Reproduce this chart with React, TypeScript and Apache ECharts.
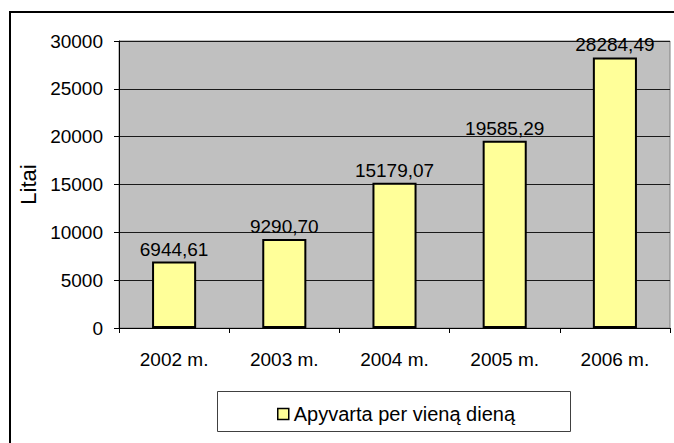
import React, { useEffect, useRef } from "react";
import * as echarts from "echarts";

const categories = ["2002 m.", "2003 m.", "2004 m.", "2005 m.", "2006 m."];
const values = [6944.61, 9290.7, 15179.07, 19585.29, 28284.49];
const seriesName = "Apyvarta per vieną dieną";
const yAxisName = "Litai";

const FONT = 'Arial, "Liberation Sans", sans-serif';

export default function App() {
  const ref = useRef<HTMLDivElement>(null);
  useEffect(() => {
    if (!ref.current) return;
    const chart = echarts.init(ref.current, undefined, { renderer: "svg" });
    chart.setOption({
      animation: false,
      backgroundColor: "#ffffff",
      textStyle: { fontFamily: FONT },
      grid: {
        left: 119,
        top: 41,
        right: 4,
        bottom: 115,
        show: true,
        backgroundColor: "#C0C0C0",
        borderColor: "#808080",
        borderWidth: 1,
      },
      xAxis: {
        type: "category",
        data: categories,
        axisLine: { show: true, lineStyle: { color: "#000", width: 1 } },
        axisTick: { show: true, length: 5, lineStyle: { color: "#000" } },
        axisLabel: { color: "#000", fontSize: 19, fontFamily: FONT, margin: 22 },
        splitLine: { show: false },
      },
      yAxis: {
        type: "value",
        min: 0,
        max: 30000,
        interval: 5000,
        name: yAxisName,
        nameLocation: "middle",
        nameRotate: 90,
        nameGap: 77,
        nameTextStyle: { color: "#000", fontSize: 22, fontFamily: FONT },
        axisLine: { show: true, lineStyle: { color: "#000", width: 1 } },
        axisTick: { show: true, length: 5, lineStyle: { color: "#000" } },
        axisLabel: {
          color: "#000",
          fontSize: 19,
          fontFamily: FONT,
          margin: 16,
          formatter: (v: number) => String(v),
        },
        splitLine: { show: true, lineStyle: { color: "#1a1a1a", width: 1 } },
      },
      legend: {
        show: true,
        data: [seriesName],
        left: 277,
        top: 404,
        padding: 0,
        itemWidth: 11,
        itemHeight: 11,
        icon: "rect",
        itemStyle: { color: "#FFFF99", borderColor: "#000", borderWidth: 1.5 },
        textStyle: { color: "#000", fontSize: 20, fontFamily: FONT },
      },
      graphic: [
        {
          type: "rect",
          shape: { x: 10, y: 12, width: 700, height: 500 },
          style: { fill: "none", stroke: "#000", lineWidth: 2 },
          silent: true,
        },
        {
          type: "rect",
          shape: { x: 217.5, y: 391.5, width: 353, height: 40 },
          style: { fill: "#fff", stroke: "#404040", lineWidth: 1 },
          silent: true,
          z: -1,
        },
      ],
      series: [
        {
          type: "bar",
          name: seriesName,
          data: values,
          barWidth: "40%",
          itemStyle: { color: "#FFFF99", borderColor: "#000", borderWidth: 2 },
          label: {
            show: true,
            position: "top",
            distance: 3,
            color: "#000",
            fontSize: 19,
            fontFamily: FONT,
            formatter: (p: any) => Number(p.value).toFixed(2).replace(".", ","),
          },
        },
      ],
    });
    return () => chart.dispose();
  }, []);
  return (
    <div
      ref={ref}
      style={{ position: "fixed", left: 0, top: 0, width: 674, height: 443 }}
    />
  );
}
